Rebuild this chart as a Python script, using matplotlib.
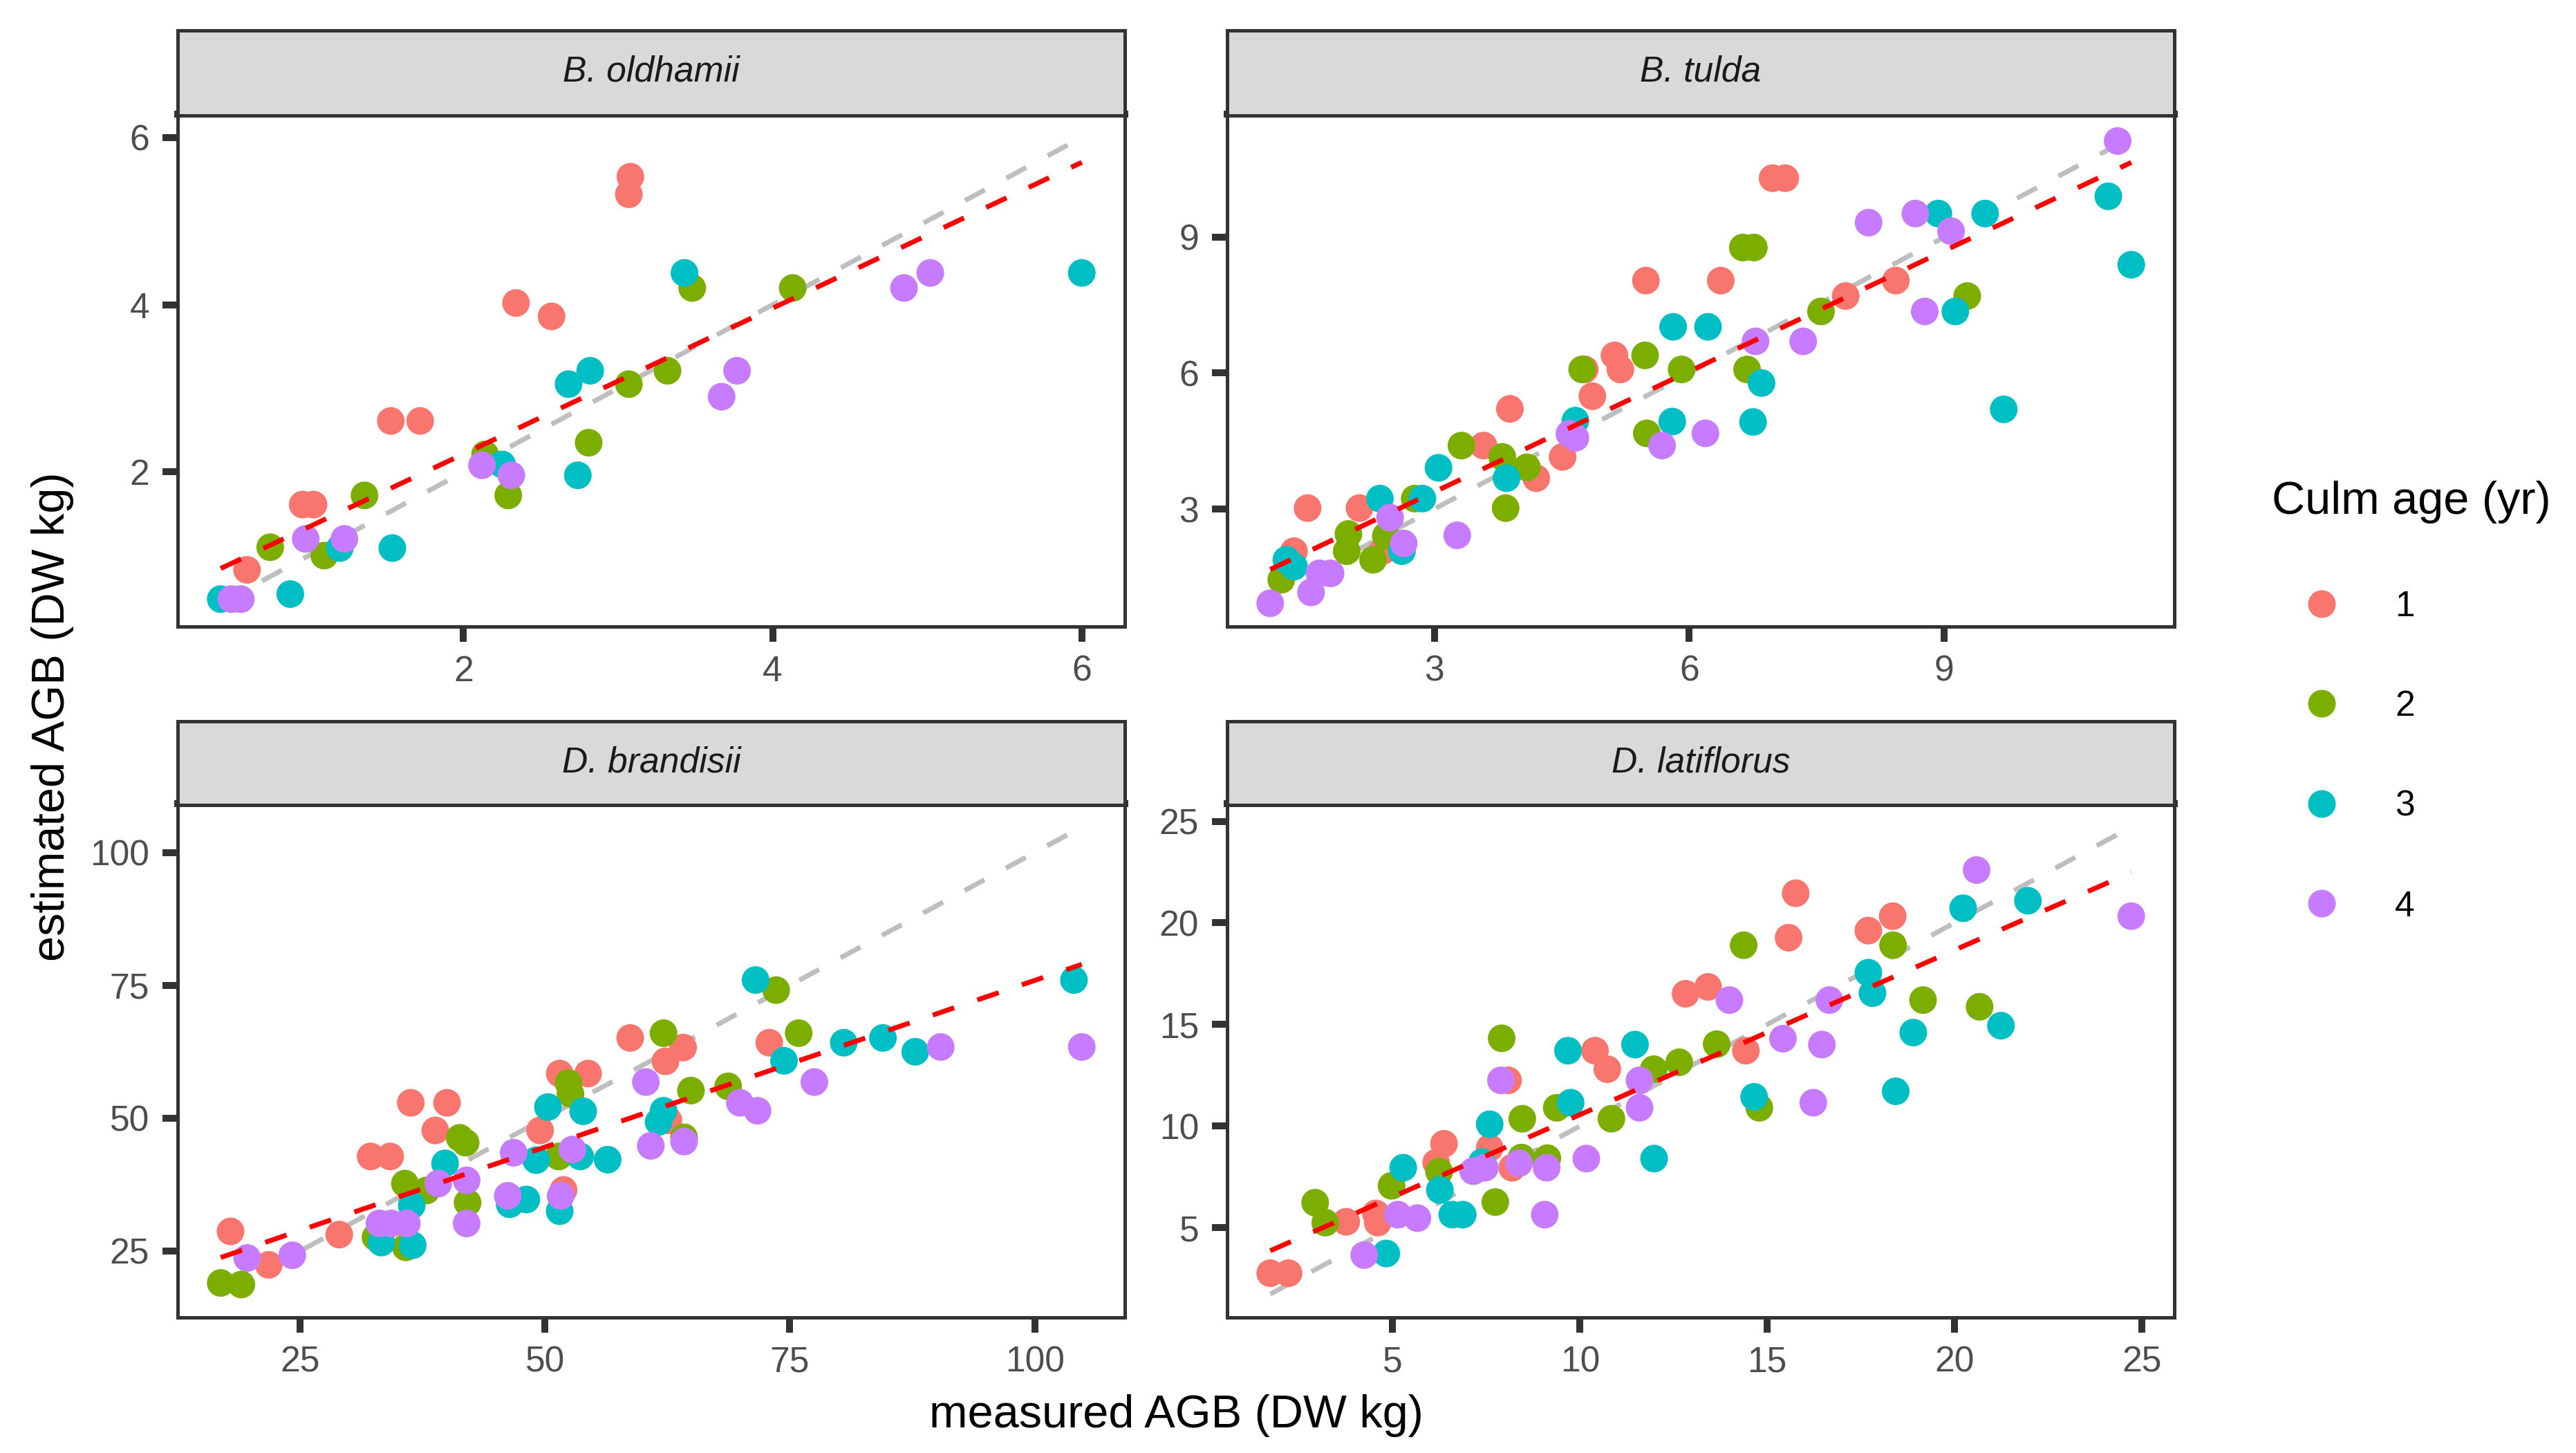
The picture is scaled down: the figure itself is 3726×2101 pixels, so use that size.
import numpy as np
import matplotlib.pyplot as plt
from matplotlib.lines import Line2D

plt.rcParams['font.family'] = ['Liberation Sans', 'DejaVu Sans']

species = ["B. oldhamii", "B. tulda", "D. brandisii", "D. latiflorus"]
ages = [1, 2, 3, 4]
age_colors = ["#F8766D", "#7CAE00", "#00BFC4", "#C77CFF"]

# (measured AGB, estimated AGB, culm age)
oldhamii = [
    (0.60, 0.83, 1), (0.96, 1.61, 1), (1.03, 1.61, 1), (1.53, 2.61, 1), (1.72, 2.61, 1),
    (2.34, 4.02, 1), (2.57, 3.86, 1), (3.08, 5.53, 1), (3.07, 5.32, 1),
    (0.75, 1.10, 2), (1.10, 1.00, 2), (1.36, 1.72, 2), (2.14, 2.21, 2), (2.29, 1.72, 2),
    (2.81, 2.35, 2), (3.07, 3.05, 2), (3.32, 3.21, 2), (3.48, 4.20, 2), (4.13, 4.20, 2),
    (0.43, 0.48, 3), (0.88, 0.54, 3), (1.20, 1.09, 3), (1.54, 1.09, 3), (2.25, 2.09, 3),
    (2.68, 3.05, 3), (2.82, 3.21, 3), (2.74, 1.96, 3), (3.43, 4.38, 3), (6.00, 4.38, 3),
    (0.50, 0.48, 4), (0.56, 0.48, 4), (0.98, 1.20, 4), (1.23, 1.20, 4), (2.12, 2.08, 4),
    (2.31, 1.96, 4), (3.67, 2.90, 4), (3.77, 3.21, 4), (4.85, 4.20, 4), (5.02, 4.38, 4),
]

tulda = [
    (1.35, 2.07, 1), (1.51, 3.02, 1), (2.12, 3.02, 1), (2.39, 2.07, 1), (3.58, 4.40, 1),
    (3.89, 5.21, 1), (4.20, 3.68, 1), (4.51, 4.15, 1), (4.86, 5.49, 1), (4.77, 6.08, 1),
    (5.12, 6.39, 1), (5.19, 6.08, 1), (5.49, 8.04, 1), (6.37, 8.04, 1), (6.98, 10.30, 1),
    (7.13, 10.30, 1), (7.84, 7.70, 1), (8.43, 8.04, 1),
    (1.20, 1.44, 2), (1.97, 2.07, 2), (1.99, 2.45, 2), (2.43, 2.41, 2), (2.28, 1.88, 2),
    (2.77, 3.23, 2), (3.32, 4.40, 2), (3.80, 4.15, 2), (3.84, 3.02, 2), (4.09, 3.92, 2),
    (4.74, 6.08, 2), (5.48, 6.39, 2), (5.91, 6.08, 2), (5.50, 4.67, 2), (6.63, 8.77, 2),
    (6.76, 8.77, 2), (6.68, 6.08, 2), (7.55, 7.36, 2), (9.27, 7.70, 2),
    (1.26, 1.88, 3), (1.35, 1.73, 3), (2.36, 3.23, 3), (2.62, 2.07, 3), (2.86, 3.23, 3),
    (3.05, 3.91, 3), (3.85, 3.68, 3), (4.66, 4.95, 3), (5.81, 7.02, 3), (6.22, 7.02, 3),
    (5.80, 4.93, 3), (6.85, 5.78, 3), (6.75, 4.92, 3), (8.93, 9.52, 3), (9.48, 9.52, 3),
    (9.13, 7.36, 3), (9.70, 5.20, 3), (10.93, 9.90, 3), (11.20, 8.39, 3),
    (1.07, 0.92, 4), (1.55, 1.16, 4), (1.65, 1.58, 4), (1.78, 1.58, 4), (2.48, 2.81, 4),
    (2.64, 2.24, 4), (3.27, 2.42, 4), (4.59, 4.66, 4), (4.66, 4.57, 4), (5.68, 4.40, 4),
    (6.19, 4.67, 4), (6.78, 6.70, 4), (7.34, 6.70, 4), (8.11, 9.32, 4), (8.66, 9.52, 4),
    (9.08, 9.13, 4), (8.77, 7.36, 4), (11.04, 11.12, 4),
]

brandisii = [
    (17.9, 28.7, 1), (21.8, 22.4, 1), (29.0, 28.1, 1), (32.2, 42.8, 1), (34.2, 42.8, 1),
    (36.3, 52.9, 1), (40.0, 52.9, 1), (38.8, 47.7, 1), (49.5, 47.7, 1), (51.5, 58.4, 1),
    (54.4, 58.4, 1), (51.9, 36.5, 1), (58.7, 65.1, 1), (62.3, 60.7, 1), (64.1, 63.3, 1),
    (62.6, 49.6, 1), (72.9, 64.2, 1),
    (16.9, 19.0, 2), (19.0, 18.7, 2), (32.7, 27.6, 2), (35.8, 25.7, 2), (35.7, 37.7, 2),
    (37.9, 36.4, 2), (41.3, 46.3, 2), (41.9, 45.4, 2), (42.1, 34.1, 2), (52.4, 56.6, 2),
    (52.6, 54.6, 2), (51.4, 42.8, 2), (62.1, 66.0, 2), (64.2, 46.4, 2), (64.9, 55.2, 2),
    (68.7, 56.0, 2), (73.6, 74.1, 2), (75.9, 66.0, 2),
    (33.3, 26.6, 3), (36.5, 26.1, 3), (36.4, 33.6, 3), (39.8, 41.5, 3), (46.4, 33.8, 3),
    (48.1, 34.7, 3), (49.1, 42.1, 3), (50.3, 52.1, 3), (53.9, 51.3, 3), (53.6, 42.8, 3),
    (56.4, 42.2, 3), (51.5, 32.5, 3), (61.6, 49.3, 3), (62.1, 51.4, 3), (71.5, 76.0, 3),
    (74.4, 60.8, 3), (80.5, 64.2, 3), (84.5, 65.1, 3), (87.8, 62.5, 3), (104.0, 76.0, 3),
    (19.6, 23.7, 4), (24.2, 24.2, 4), (33.1, 30.2, 4), (34.3, 30.2, 4), (35.9, 30.2, 4),
    (39.1, 37.7, 4), (42.0, 38.3, 4), (42.0, 30.2, 4), (46.8, 43.5, 4), (46.2, 35.4, 4),
    (52.8, 44.1, 4), (51.6, 35.4, 4), (60.3, 56.8, 4), (60.8, 44.8, 4), (64.2, 45.6, 4),
    (69.9, 52.9, 4), (71.7, 51.4, 4), (77.5, 56.8, 4), (90.4, 63.4, 4), (104.8, 63.4, 4),
]

latiflorus = [
    (1.73, 2.76, 1), (2.22, 2.76, 1), (3.76, 5.29, 1), (4.55, 5.70, 1), (4.60, 5.25, 1),
    (6.37, 9.13, 1), (6.16, 8.20, 1), (7.59, 8.93, 1), (8.08, 12.25, 1), (8.19, 7.95, 1),
    (10.40, 13.71, 1), (10.73, 12.80, 1), (12.82, 16.51, 1), (13.42, 16.85, 1),
    (14.43, 13.71, 1), (15.76, 21.46, 1), (15.57, 19.27, 1), (17.70, 19.62, 1), (18.35, 20.33, 1),
    (2.93, 6.23, 2), (3.20, 5.25, 2), (4.97, 7.06, 2), (6.24, 7.75, 2), (7.74, 6.26, 2),
    (7.91, 14.32, 2), (8.46, 10.36, 2), (8.44, 8.45, 2), (9.13, 8.42, 2), (9.38, 10.90, 2),
    (10.84, 10.36, 2), (11.97, 12.80, 2), (12.65, 13.14, 2), (13.65, 14.03, 2),
    (14.37, 18.90, 2), (14.79, 10.90, 2), (18.36, 18.90, 2), (19.16, 16.20, 2), (20.67, 15.87, 2),
    (4.83, 3.73, 3), (5.28, 7.95, 3), (6.26, 6.85, 3), (6.59, 5.64, 3), (6.87, 5.64, 3),
    (7.39, 8.23, 3), (7.59, 10.09, 3), (9.75, 11.15, 3), (9.68, 13.71, 3), (11.47, 14.01, 3),
    (11.98, 8.40, 3), (14.65, 11.44, 3), (17.70, 17.55, 3), (17.81, 16.54, 3),
    (18.90, 14.60, 3), (18.43, 11.71, 3), (20.23, 20.72, 3), (21.96, 21.09, 3), (21.24, 14.94, 3),
    (4.24, 3.65, 4), (5.14, 5.64, 4), (5.66, 5.47, 4), (7.15, 7.78, 4), (7.46, 7.95, 4),
    (7.89, 12.25, 4), (8.37, 8.17, 4), (9.06, 5.64, 4), (9.11, 7.95, 4), (10.17, 8.40, 4),
    (11.59, 12.25, 4), (11.59, 10.90, 4), (13.99, 16.20, 4), (15.42, 14.30, 4),
    (16.46, 14.01, 4), (16.66, 16.20, 4), (16.23, 11.15, 4), (20.59, 22.60, 4), (24.72, 20.33, 4),
]

x_ticks = [[2, 4, 6], [3, 6, 9], [25, 50, 75, 100], [5, 10, 15, 20, 25]]
y_ticks = [[2, 4, 6], [3, 6, 9], [25, 50, 75, 100], [5, 10, 15, 20, 25]]

panel_data = [oldhamii, tulda, brandisii, latiflorus]

# layout in output pixels: (left, top, right, bottom) of each panel, top of its strip
W, H = 3726, 2101
panel_px = [(257, 165, 1627, 906), (1775, 165, 3145, 906),
            (257, 1162, 1627, 1905), (1775, 1162, 3145, 1905)]
strip_top_px = [44, 44, 1043, 1043]

border_col = "#333333"
dash = (4.6, 5.0)

fig = plt.figure(figsize=(W / 300, H / 300), dpi=300)

for i, name in enumerate(species):
    l, t, r, b = panel_px[i]
    ax = fig.add_axes([l / W, 1 - b / H, (r - l) / W, (b - t) / H])
    pts = np.array(panel_data[i], dtype=float)
    x, y, age = pts[:, 0], pts[:, 1], pts[:, 2]

    for a, col in zip(ages, age_colors):
        m = age == a
        ax.scatter(x[m], y[m], s=92, color=col, edgecolors="none", zorder=2)

    xs = np.array([x.min(), x.max()])
    coef = np.polyfit(x, y, 1)
    fit = np.polyval(coef, xs)
    ax.plot(xs, xs, color="#BEBEBE", lw=1.7, dashes=dash,
            dash_capstyle="butt", zorder=1)
    ax.plot(xs, fit, color="#FF0000", lw=1.7, dashes=dash,
            dash_capstyle="butt", zorder=3)

    # ggplot-like 5% expansion
    xr = xs[1] - xs[0]
    ax.set_xlim(xs[0] - 0.05 * xr, xs[1] + 0.05 * xr)
    ylo = min(y.min(), xs.min(), fit.min())
    yhi = max(y.max(), xs.max(), fit.max())
    yr = yhi - ylo
    ax.set_ylim(ylo - 0.05 * yr, yhi + 0.05 * yr)

    ax.set_xticks(x_ticks[i])
    ax.set_yticks(y_ticks[i])
    ax.tick_params(length=5.3, width=2.4, color=border_col, labelsize=12.4,
                   labelcolor="#4D4D4D", pad=4.5)
    for side, sp in ax.spines.items():
        sp.set_color(border_col)
        sp.set_linewidth(2.4 if side == "top" else 1.2)

    # facet strip
    st = strip_top_px[i]
    sax = fig.add_axes([l / W, 1 - t / H, (r - l) / W, (t - st) / H])
    sax.set_facecolor("#D9D9D9")
    sax.set_xticks([])
    sax.set_yticks([])
    for side, sp in sax.spines.items():
        sp.set_color(border_col)
        sp.set_linewidth(0 if side == "bottom" else 1.2)
    sax.text(0.5, 0.5, name, ha="center", va="center", fontsize=12.4,
             style="italic", color="#1A1A1A", transform=sax.transAxes)

fig.text(1701 / W, 0.0255, "measured AGB (DW kg)", ha="center", va="center",
         fontsize=16)
fig.text(76 / W, 0.507, "estimated AGB (DW kg)", ha="center", va="center",
         rotation=90, fontsize=16)

handles = [Line2D([], [], marker="o", ls="", markersize=9.6, markerfacecolor=c,
                  markeredgecolor="none") for c in age_colors]
fig.legend(handles, [str(a) for a in ages], title="Culm age (yr)",
           loc="center left", bbox_to_anchor=(3286 / W, 0.5167), frameon=False,
           fontsize=12.4, title_fontsize=16, handlelength=2.8, handletextpad=0.65,
           labelspacing=1.85, borderpad=0, borderaxespad=0, alignment="left")

fig.savefig("out.png", dpi=300)
